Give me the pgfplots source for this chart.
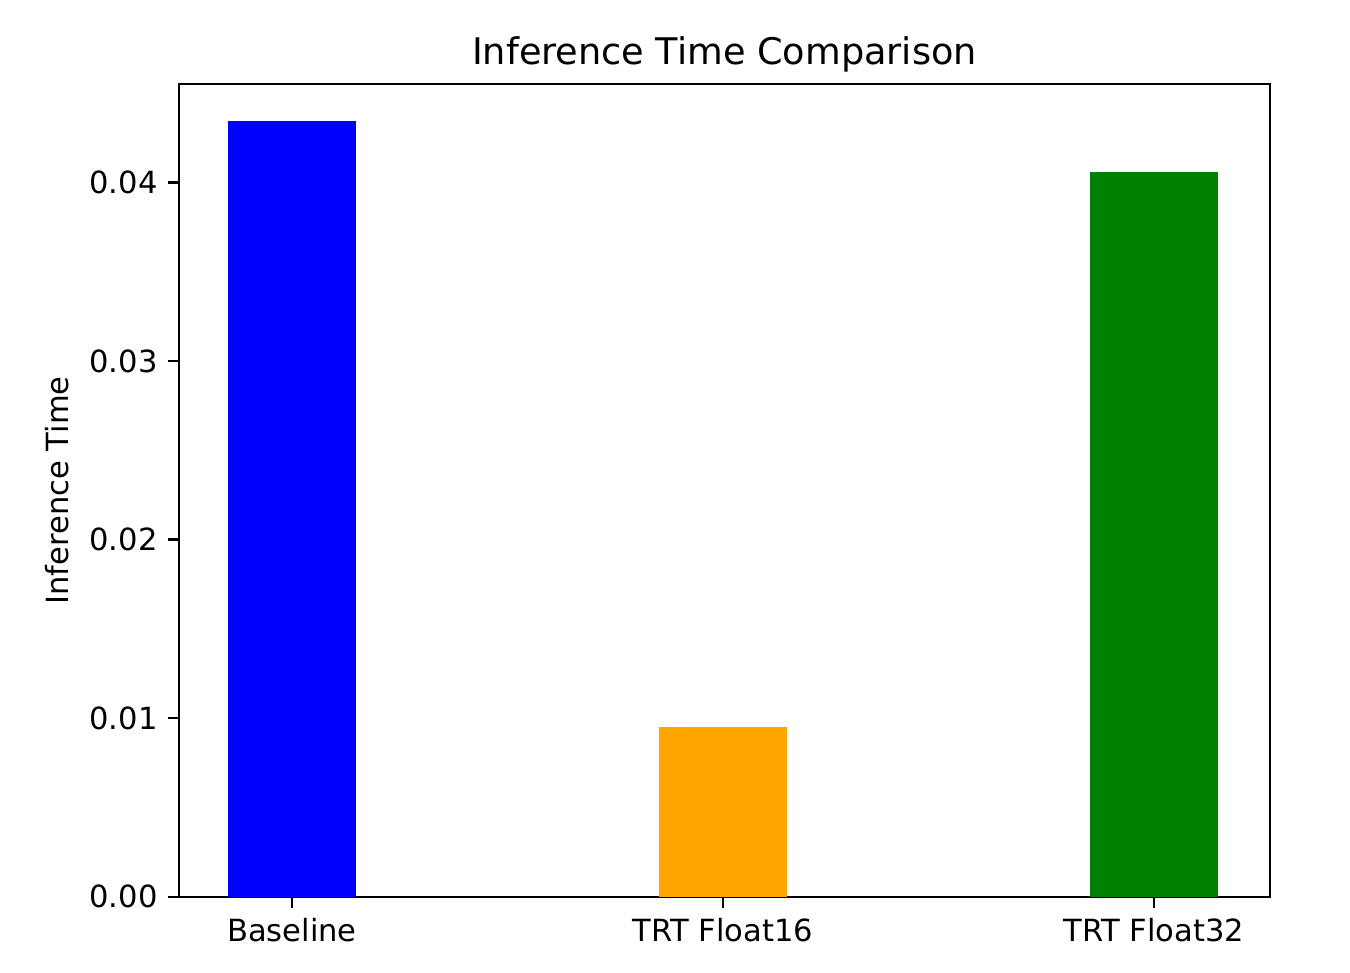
\documentclass[border=0pt]{standalone}
\usepackage{fontspec}
\setmainfont{DejaVu Sans}
\usepackage{pgfplots}
\pgfplotsset{compat=1.18}
\definecolor{mplblue}{RGB}{0,0,255}
\definecolor{mplorange}{RGB}{255,165,0}
\definecolor{mplgreen}{RGB}{0,128,0}
\begin{document}
\begin{tikzpicture}
\begin{axis}[
  scale only axis,
  width=357pt, height=266pt,
  xmin=-0.262, xmax=2.269,
  ymin=0, ymax=0.0455,
  xtick={0,1,2},
  xticklabels={Baseline, TRT Float16, TRT Float32},
  ytick={0,0.01,0.02,0.03,0.04},
  yticklabel style={/pgf/number format/fixed, /pgf/number format/fixed zerofill, /pgf/number format/precision=2},
  /pgf/number format/assume math mode=true,
  scaled y ticks=false,
  tick pos=left,
  tick align=outside,
  major tick length=3.5pt,
  every tick/.style={line width=0.8pt, black},
  axis line style={line width=0.8pt},
  tick label style={font=\fontsize{10pt}{12pt}\selectfont, color=black},
  ylabel={Inference Time},
  ylabel style={font=\fontsize{10pt}{12pt}\selectfont, color=black},
  title={Inference Time Comparison},
  title style={font=\fontsize{12pt}{14pt}\selectfont, color=black, yshift=-5.5pt},
  clip=false,
]
\addplot[ybar, bar width=0.295, bar shift=0pt, fill=mplblue, draw=none] coordinates {(0,0.04342)};
\addplot[ybar, bar width=0.295, bar shift=0pt, fill=mplorange, draw=none] coordinates {(1,0.00952)};
\addplot[ybar, bar width=0.295, bar shift=0pt, fill=mplgreen, draw=none] coordinates {(2,0.04056)};
\end{axis}
\pgfresetboundingbox
\path[use as bounding box] ([shift={(-58.6pt,-24.9pt)}]current axis.south west) rectangle ([shift={(26.2pt,27.5pt)}]current axis.north east);
\end{tikzpicture}
\end{document}
